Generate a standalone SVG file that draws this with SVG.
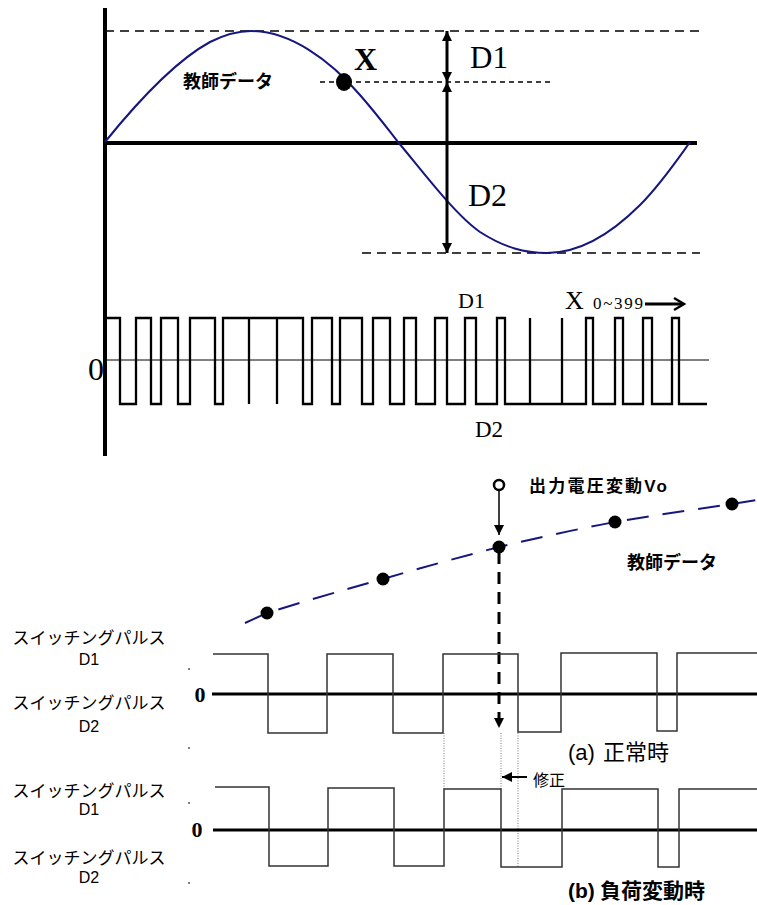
<svg xmlns="http://www.w3.org/2000/svg" width="757" height="905" viewBox="0 0 757 905">
<style>
.serif{font-family:"Liberation Serif","DejaVu Serif",serif;fill:#000}
.jp{font-family:"Liberation Sans","Noto Sans CJK JP",sans-serif;fill:#000}
.jpb{font-family:"Liberation Sans","Noto Sans CJK JP",sans-serif;font-weight:bold;fill:#000}
.dash{stroke:#000;stroke-width:1.6;stroke-dasharray:9 6;fill:none}
.sdash{stroke:#000;stroke-width:1.3;stroke-dasharray:5 4;fill:none}
.pulse{stroke:#000;stroke-width:2.3;fill:none;stroke-linejoin:miter}
.pulse2{stroke:#333;stroke-width:1.5;fill:none}
.axis{stroke:#000;stroke-width:4;fill:none}
.zero{stroke:#000;stroke-width:3;fill:none}
.dotv{stroke:#555;stroke-width:0.8;stroke-dasharray:1 1.5;fill:none}
.navy{stroke:#16167e;stroke-width:2;fill:none}
</style>
<defs>
<marker id="ah" viewBox="0 0 10 10" refX="10" refY="5" markerWidth="10" markerHeight="10" markerUnits="userSpaceOnUse" orient="auto-start-reverse"><path d="M0,0 L10,5 L0,10 Z" fill="#000"/></marker>
</defs>

<g id="top-axes">
<line class="axis" x1="105" y1="8" x2="105" y2="456"/>
<line class="axis" x1="105" y1="143" x2="697" y2="143"/>
<line class="dash" x1="105" y1="31" x2="700" y2="31"/>
<line class="dash" x1="362" y1="253" x2="700" y2="253"/>
<line class="sdash" x1="320" y1="82" x2="552" y2="82"/>
</g>

<g id="sine">
<path class="navy" d="M105,142 C143,95 177,60 210,42 C228,33 240,31 251,31 C290,31 330,60 360,95 C380,118 390,132 398,142 C420,168 455,215 480,232 C505,248 525,253 547,253 C575,253 605,240 640,205 C660,185 675,163 690,142"/>
</g>

<g id="point-x">
<ellipse cx="344" cy="82" rx="8" ry="9" fill="#000"/>
<text class="serif" x="354" y="70" font-size="32" font-weight="bold">X</text>
<text class="jpb" x="183" y="88" font-size="18">教師データ</text>
</g>

<g id="connectors">
<line x1="447" y1="31" x2="447" y2="82" stroke="#000" stroke-width="3" marker-start="url(#ah)" marker-end="url(#ah)"/>
<line x1="447" y1="82" x2="447" y2="253" stroke="#000" stroke-width="3" marker-start="url(#ah)" marker-end="url(#ah)"/>
<line x1="499" y1="491" x2="499" y2="535" stroke="#000" stroke-width="1.5" marker-end="url(#ah)"/>
<line x1="499" y1="552" x2="499" y2="728" stroke="#000" stroke-width="3" stroke-dasharray="12 8" marker-end="url(#ah)"/>
<line x1="527" y1="777" x2="502" y2="777" stroke="#000" stroke-width="2" marker-end="url(#ah)"/>
</g>

<g id="d-labels-top">
<text class="serif" x="470" y="68" font-size="31">D1</text>
<text class="serif" x="468" y="206" font-size="32">D2</text>
</g>

<g id="pulse-train">
<line x1="107" y1="360" x2="709" y2="360" stroke="#000" stroke-width="1"/>
<path class="pulse" d="M107,318 H120 V404 H136 V318 H151 V404 H161 V318 H178 V404 H190 V318 H215 V404 H223 V318 H249 V404 V318 H277 V404 V318 H303 V404 H312 V318 H332 V404 H340 V318 H362 V404 H373 V318 H390 V404 H404 V318 H416 V404 H435 V318 H447 V404 H465 V318 H476 V404 H497 V318 H505 V404 H530 V318 V404 H562 V318 V404 H586 V318 H593 V404 H615 V318 H623 V404 H643 V318 H652 V404 H672 V318 H679 V404 H707"/>
<text class="serif" x="88" y="380" font-size="32">0</text>
<text class="serif" x="458" y="308" font-size="22">D1</text>
<text class="serif" x="475" y="437" font-size="23">D2</text>
<text class="serif" x="565" y="309" font-size="26" textLength="27">X</text>
<text class="serif" x="593" y="309" font-size="17" textLength="50">0~399</text>
<line x1="645" y1="304" x2="682" y2="304" stroke="#000" stroke-width="3"/>
<polyline points="674,298 684,304 674,310" fill="none" stroke="#000" stroke-width="2.5"/>
</g>

<g id="teacher-data">
<path class="navy" stroke-dasharray="22 14" d="M245,623 L267,613 Q325,595 383,579 Q441,562 499,547 Q557,533 615,522 Q675,512 732,504 L757,500"/>
<circle cx="267" cy="613" r="6.5" fill="#000"/>
<circle cx="383" cy="579" r="6.5" fill="#000"/>
<circle cx="499" cy="547" r="6.5" fill="#000"/>
<circle cx="615" cy="522" r="6.5" fill="#000"/>
<circle cx="732" cy="504" r="6.5" fill="#000"/>
<text class="jpb" x="627" y="569" font-size="18">教師データ</text>
</g>

<g id="vo">
<circle cx="499" cy="485" r="5" fill="#fff" stroke="#000" stroke-width="2.5"/>
<text class="jpb" x="529" y="492" font-size="17" textLength="138">出力電圧変動Vo</text>
</g>

<g id="pulse-a">
<line class="zero" x1="212" y1="694" x2="757" y2="694"/>
<path class="pulse2" d="M213,654 H268 V733 H327 V654 H393 V733 H443 V654 H518 V732 H561 V653 H657 V731 H677 V653 H757"/>
<text class="serif" x="200" y="702" font-size="22" font-weight="bold" text-anchor="middle">0</text>
<text class="jp" x="89" y="644" font-size="17" text-anchor="middle">スイッチングパルス</text>
<text class="jp" x="89" y="665" font-size="16" text-anchor="middle">D1</text>
<text class="jp" x="89" y="709" font-size="17" text-anchor="middle">スイッチングパルス</text>
<text class="jp" x="89" y="732" font-size="16" text-anchor="middle">D2</text>
<text class="jp" x="568" y="760" font-size="22">(a)<tspan x="603">正常時</tspan></text>
</g>

<g id="guides">
<line class="dotv" x1="444" y1="733" x2="444" y2="789"/>
<line class="dotv" x1="501" y1="733" x2="501" y2="790"/>
<line class="dotv" x1="518" y1="733" x2="518" y2="868"/>
<circle cx="189" cy="669" r="0.9" fill="#444"/>
<circle cx="189" cy="748" r="0.9" fill="#444"/>
<circle cx="189" cy="803" r="0.9" fill="#444"/>
<circle cx="189" cy="883" r="0.9" fill="#444"/>
</g>

<g id="pulse-b">
<line class="zero" x1="213" y1="830" x2="757" y2="830"/>
<path class="pulse2" d="M215,787 H269 V866 H328 V788 H394 V866 H444 V789 H501 V867 H562 V789 H658 V867 H679 V789 H757"/>
<text class="serif" x="197" y="837" font-size="22" font-weight="bold" text-anchor="middle">0</text>
<text class="jp" x="89" y="797" font-size="17" text-anchor="middle">スイッチングパルス</text>
<text class="jp" x="89" y="815" font-size="16" text-anchor="middle">D1</text>
<text class="jp" x="89" y="864" font-size="17" text-anchor="middle">スイッチングパルス</text>
<text class="jp" x="89" y="883" font-size="16" text-anchor="middle">D2</text>
<text class="jp" x="533" y="786" font-size="16">修正</text>
<text class="jpb" x="568" y="898" font-size="21">(b)<tspan x="600">負荷変動時</tspan></text>
</g>
</svg>
